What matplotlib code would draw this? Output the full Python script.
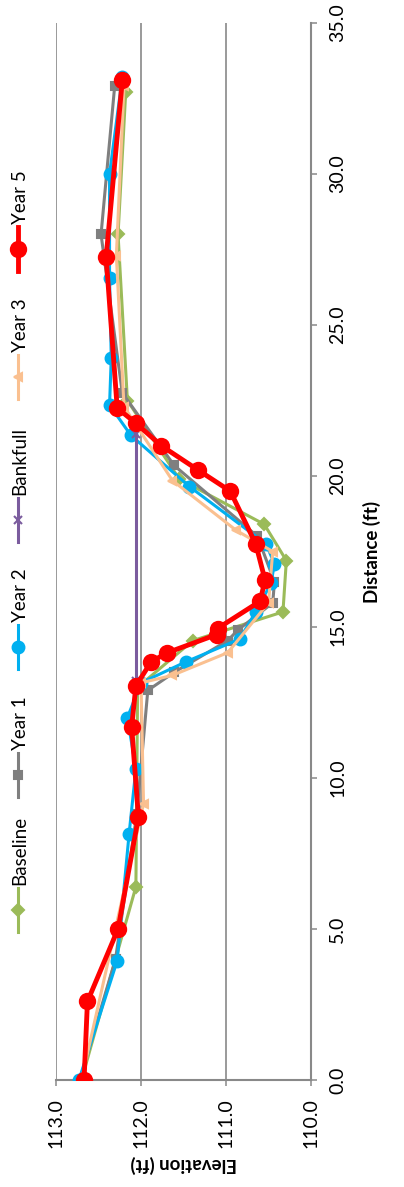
import matplotlib.pyplot as plt
from matplotlib.lines import Line2D

# elevation (ft) and distance (ft) for each survey
base_dist = [0.0, 6.4, 13.0, 14.55, 15.5, 17.2, 18.4, 19.9, 22.5, 28.0, 32.7]
base_elev = [112.70, 112.06, 112.04, 111.39, 110.33, 110.29, 110.55, 111.55, 112.16, 112.27, 112.18]

yr1_dist = [0.0, 4.0, 8.8, 12.9, 13.5, 14.55, 14.9, 15.8, 16.5, 18.0, 20.35, 22.75, 28.0, 32.9]
yr1_elev = [112.72, 112.30, 112.05, 111.92, 111.61, 110.98, 110.86, 110.45, 110.43, 110.63, 111.61, 112.22, 112.47, 112.31]

yr2_dist = [0.0, 3.95, 8.15, 10.3, 12.0, 13.15, 13.85, 14.6, 15.5, 16.45, 17.1, 17.75, 19.65, 21.35,
            22.35, 23.9, 26.55, 30.0, 33.2]
yr2_elev = [112.73, 112.28, 112.14, 112.06, 112.16, 112.0, 111.47, 110.84, 110.65, 110.47, 110.43, 110.53,
            111.43, 112.12, 112.37, 112.35, 112.37, 112.37, 112.22]

bank_dist = [13.2, 21.4]
bank_elev = [112.06, 112.06]

yr3_dist = [0.0, 9.15, 13.15, 13.4, 14.15, 15.8, 17.5, 18.2, 19.85, 22.3, 27.3, 32.9]
yr3_elev = [112.70, 111.97, 112.0, 111.63, 110.98, 110.5, 110.45, 110.88, 111.63, 112.2, 112.29, 112.2]

yr5_dist = [0.0, 2.6, 5.0, 8.7, 11.7, 13.05, 13.85, 14.15, 14.75, 14.95, 15.85, 16.55, 17.75, 19.5,
            20.2, 21.0, 21.75, 22.25, 27.25, 33.1]
yr5_elev = [112.67, 112.63, 112.27, 112.03, 112.11, 112.06, 111.88, 111.69, 111.11, 111.10, 110.60,
            110.54, 110.65, 110.95, 111.33, 111.76, 112.06, 112.28, 112.41, 112.22]

dist_ticks = [0, 5, 10, 15, 20, 25, 30, 35]
elev_ticks = [113, 112, 111, 110]

plt.rcParams['font.family'] = ['Lato', 'DejaVu Sans']

W, H = 404, 1187
fig = plt.figure(figsize=(W / 100, H / 100), dpi=100)
ax = fig.add_axes([56 / W, (H - 1080) / H, (311 - 56) / W, (1080 - 23) / H])

series = [
    ('Baseline', base_elev, base_dist, '#9BBB59', 'D', 6, 2.2),
    ('Year 1', yr1_elev, yr1_dist, '#7F7F7F', 's', 6, 2.2),
    ('Year 2', yr2_elev, yr2_dist, '#00B0F0', 'o', 8.5, 2.2),
    ('Bankfull', bank_elev, bank_dist, '#7B5C9E', 'x', 6, 2.2),
    ('Year 3', yr3_elev, yr3_dist, '#FAC090', '<', 6, 2.2),
    ('Year 5', yr5_elev, yr5_dist, '#FF0000', 'o', 11, 3.5),
]

for name, e, d, c, m, ms, lw in series:
    ax.plot(e, d, color=c, marker=m, ms=ms, lw=lw, mew=1.5, mec=c, label=name, zorder=3)

ax.set_xlim(113, 110)
ax.set_ylim(0, 35)
ax.set_xticks(elev_ticks)
ax.set_xticklabels([f'{v:.1f}' for v in elev_ticks], rotation=90)
ax.set_yticks(dist_ticks)
ax.set_yticklabels([f'{v:.1f}' for v in dist_ticks], rotation=90, va='center')
ax.yaxis.tick_right()
ax.yaxis.set_label_position('right')

grid_c = '#898989'
ax.grid(axis='x', color=grid_c, lw=1.2)
ax.grid(axis='y', visible=False)
for s in ['top', 'left']:
    ax.spines[s].set_visible(False)
for s in ['bottom', 'right']:
    ax.spines[s].set_color(grid_c)
    ax.spines[s].set_linewidth(1.5)
ax.tick_params(axis='both', direction='out', length=4, width=1.1, color=grid_c,
               labelsize=14, labelcolor='#000000', pad=9)
ax.set_axisbelow(True)

ax.set_xlabel('Elevation (ft)', fontsize=13.5, fontweight='bold', rotation=180, labelpad=5)
ax.set_ylabel('Distance (ft)', fontsize=13.5, fontweight='bold', rotation=90, labelpad=12)

# legend drawn by hand so its text can be turned like the rest of the chart
leg_y = [910, 775, 647, 520, 377, 249]
lx = 18
for (name, e, d, c, m, ms, lw), py in zip(series, leg_y):
    fig.add_artist(Line2D([lx / W, lx / W], [(H - py - 22) / H, (H - py + 22) / H],
                          transform=fig.transFigure, color=c, lw=lw, marker=None))
    fig.add_artist(Line2D([lx / W], [(H - py) / H], transform=fig.transFigure, color=c,
                          marker=m, ms=ms, mew=1.5, mec=c, lw=0))
    fig.text((lx + 2) / W, (H - py + 25) / H, name, rotation=90, ha='center', va='bottom',
             fontsize=13.5)

fig.savefig('out.png', dpi=100)
